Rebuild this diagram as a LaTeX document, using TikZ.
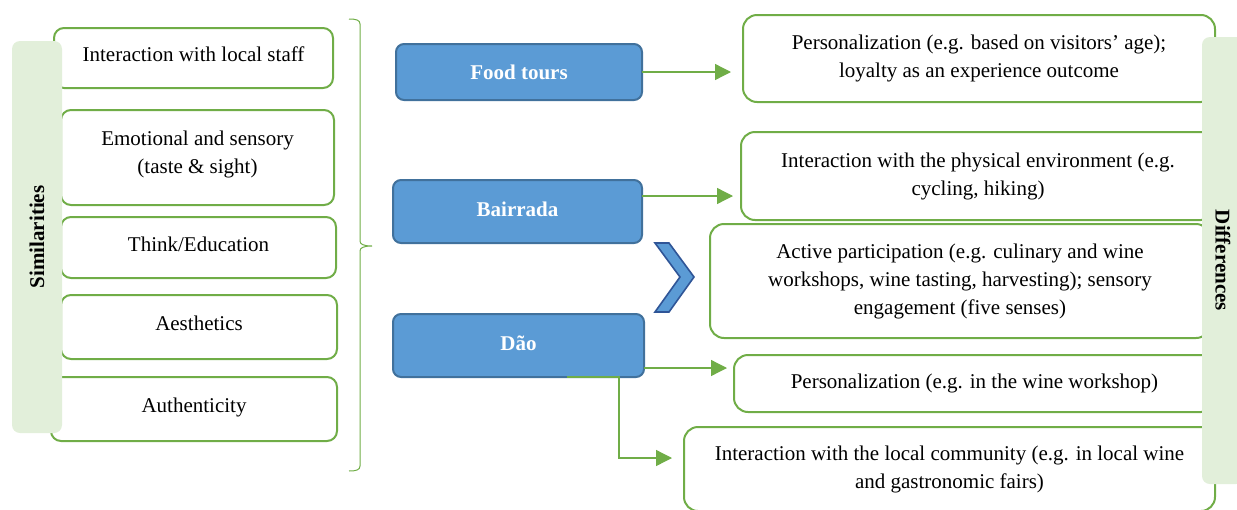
\documentclass[tikz,border=0pt]{standalone}
\usepackage{fontspec}
\setmainfont{Liberation Serif}
\usetikzlibrary{arrows.meta,calc}
\definecolor{grn}{HTML}{70AD47}
\definecolor{lgrn}{HTML}{E2EFDA}
\definecolor{blu}{HTML}{5B9BD5}
\definecolor{bluborder}{HTML}{41719C}
\definecolor{chevborder}{HTML}{2F5597}
\begin{document}
\begin{tikzpicture}[x=0.5pt,y=-0.5pt,
 every node/.style={font=\fontsize{10.5}{14}\selectfont, inner sep=0pt, outer sep=0pt},
 lbox/.style={draw=grn, line width=1pt, fill=white, rounded corners=5pt, align=center},
 lone/.style={lbox, text height=7.5pt, text depth=4pt},
 rbox/.style={draw=grn, line width=1pt, fill=white, rounded corners=7pt, align=center},
 bbox/.style={draw=bluborder, line width=1pt, fill=blu, rounded corners=4pt, text=white, font=\fontsize{10.5}{14}\selectfont\bfseries},
 bup/.style={text height=7.5pt, text depth=3pt},
 bar/.style={fill=lgrn, rounded corners=4pt, font=\fontsize{10.5}{14}\selectfont\bfseries},
 arr/.style={draw=grn, line width=0.65pt, -{Triangle[length=8pt,width=8pt]}},
 brace/.style={draw=grn, line width=0.5pt},
 chev/.style={fill=blu, draw=chevborder, line width=0.8pt, line join=miter}
]
\useasboundingbox (0,0) rectangle (1237,509);

% left boxes
\node[lone, minimum width=139.5pt, minimum height=30pt] (l1) at (193.5,58) {Interaction with local staff};
\node[lbox, text depth=5pt, minimum width=136.5pt, minimum height=47.5pt] (l2) at (197.5,157.5) {Emotional and sensory\\(taste \& sight)};
\node[lone, minimum width=137.5pt, minimum height=30.5pt] (l3) at (198.5,247.5) {Think/Education};
\node[lone, minimum width=138pt, minimum height=32pt] (l4) at (199,327) {Aesthetics};
\node[lone, minimum width=143pt, minimum height=32pt] (l5) at (194,409) {Authenticity};
\node[bar, rotate=90, minimum width=196pt, minimum height=25pt] (sim) at (37,237) {Similarities};

% brace
\draw[brace] (349,19) .. controls (356,19) and (360,20) .. (360,24) -- (360,241)
  .. controls (360,244) and (363,246) .. (372,246)
  .. controls (363,246) and (360,248) .. (360,251) -- (360,466)
  .. controls (360,470) and (356,471) .. (349,471);

% blue boxes
\node[bbox, minimum width=123pt, minimum height=28pt] (food) at (519,72) {Food tours};
\node[bbox, bup, minimum width=124.5pt, minimum height=31.5pt] (bair) at (517.5,211.5) {Bairrada};
\node[bbox, bup, minimum width=125.5pt, minimum height=31.5pt] (dao) at (518.5,345.5) {Dão};

% right boxes
\node[rbox, minimum width=236pt, minimum height=43.5pt] (r1) at (979,58.5) {Personalization (e.g. based on visitors’ age);\\loyalty as an experience outcome};
\node[rbox, minimum width=237pt, minimum height=44pt] (r2) at (978,176) {Interaction with the physical environment (e.g.\\cycling, hiking)};
\node[rbox, minimum width=250pt, minimum height=57pt] (r3) at (960,281) {Active participation (e.g. culinary and wine\\workshops, wine tasting, harvesting); sensory\\engagement (five senses)};
\node[rbox, minimum width=240.5pt, minimum height=28.5pt] (r4) at (974.5,383.5) {Personalization (e.g. in the wine workshop)};
\node[rbox, minimum width=265.5pt, minimum height=42pt] (r5) at (949.5,469) {Interaction with the local community (e.g. in local wine\\and gastronomic fairs)};
\node[bar, rotate=-90, minimum width=223.5pt, minimum height=21pt] (diff) at (1223,260.5) {Differences};

% chevron
\draw[chev] (655,243) -- (669,243) -- (694,277) -- (669,312) -- (655,312) -- (680,277) -- cycle;

% arrows
\draw[arr, shorten >=6pt] (food.east) -- (food.east -| r1.west);
\draw[arr, shorten >=4pt] ([yshift=7.75pt]bair.east) -- ([yshift=7.75pt]bair.east -| r2.west);
\draw[arr, shorten >=3.5pt] ([yshift=-11.25pt]dao.east) -- ([yshift=-11.25pt]dao.east -| r4.west);
\draw[arr, shorten >=6pt] ([xshift=24.25pt]dao.south) -- ([xshift=50.25pt]dao.south) |- ([yshift=5.5pt]r5.west);
\end{tikzpicture}
\end{document}
